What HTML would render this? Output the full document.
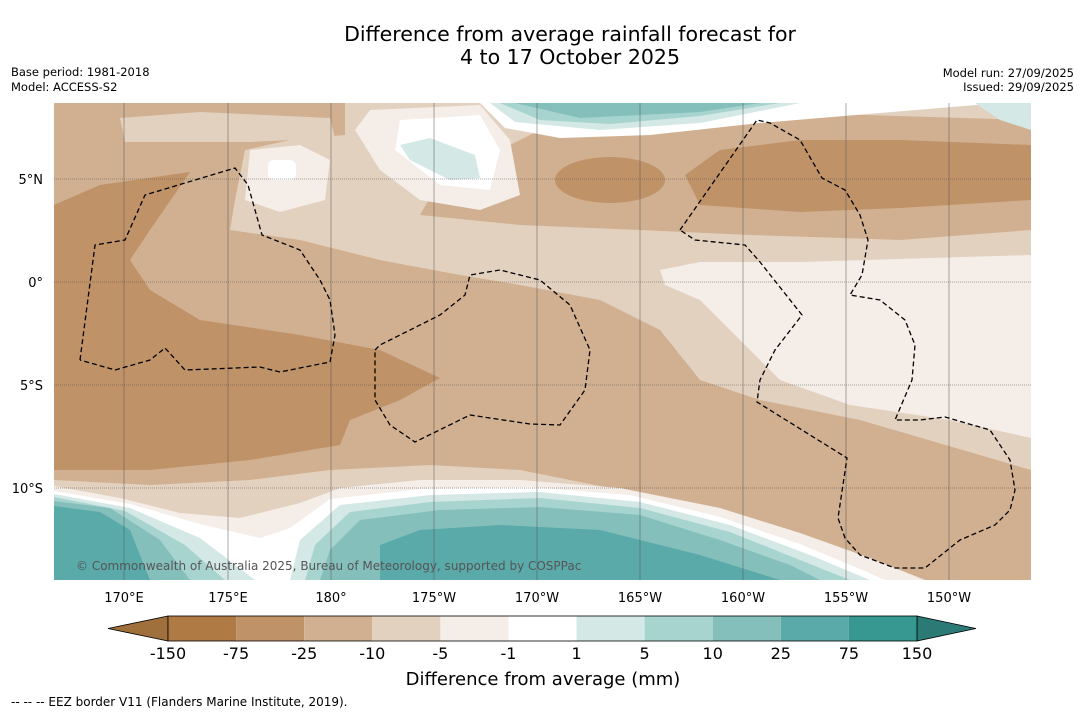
<!DOCTYPE html>
<html><head><meta charset="utf-8">
<style>
body{margin:0;background:#fff;width:1085px;height:713px;overflow:hidden;font-family:"DejaVu Sans","Liberation Sans",sans-serif;}
svg{position:absolute;left:0;top:0}
</style></head>
<body>
<svg width="1085" height="713" viewBox="0 0 1085 713">
<text x="570" y="41" font-size="20.5" text-anchor="middle">Difference from average rainfall forecast for</text>
<text x="570" y="64" font-size="20.5" text-anchor="middle">4 to 17 October 2025</text>
<text x="11" y="76" font-size="11.5">Base period: 1981-2018</text>
<text x="11" y="91" font-size="11.5">Model: ACCESS-S2</text>
<text x="1074" y="77" font-size="11.5" text-anchor="end">Model run: 27/09/2025</text>
<text x="1074" y="91" font-size="11.5" text-anchor="end">Issued: 29/09/2025</text>
<defs><clipPath id="mc"><rect x="54" y="103" width="977" height="477"/></clipPath></defs>
<g clip-path="url(#mc)">
<rect x="54" y="103" width="977" height="477" fill="#e3d1bf"/>
<polygon fill="#d0b090" points="54,103 345,103 345,135 290,140 245,150 235,200 230,230 300,240 380,260 460,275 520,285 600,300 660,330 700,380 760,400 860,420 1031,470 1031,580 880,580 820,560 760,540 700,510 620,490 520,470 430,465 330,470 250,480 150,485 54,480"/>
<polygon fill="#d0b090" points="520,140 560,120 700,110 1031,120 1031,230 900,240 750,235 640,230 520,225 420,215 440,180 500,150"/>
<polygon fill="#e3d1bf" points="120,118 200,112 330,118 335,138 250,142 125,142"/>
<polygon fill="#bf9268" points="54,205 100,185 190,172 150,230 130,260 150,290 200,320 300,335 380,350 440,378 400,400 350,420 340,445 250,460 150,470 54,470"/>
<polygon fill="#bf9268" points="685,175 720,150 800,140 900,140 1031,145 1031,200 900,208 800,212 700,205"/>
<ellipse cx="610" cy="180" rx="55" ry="23" fill="#bf9268"/>
<polygon fill="#f4ede8" points="660,270 700,262 800,262 1031,255 1031,438 950,420 850,405 780,380 740,340 700,300 665,285"/>
<polygon fill="#f4ede8" points="370,110 480,105 510,140 520,195 480,210 420,200 380,170 355,130"/>
<polygon fill="#f4ede8" points="250,150 300,145 330,160 325,200 280,212 245,200"/>
<polygon fill="#fff" points="400,120 480,115 500,150 490,190 440,185 395,150"/>
<rect x="268" y="160" width="28" height="20" rx="6" fill="#fff"/>
<polygon fill="#d4e8e6" points="400,145 430,138 475,155 480,178 450,180 410,160"/>
<polygon fill="#fff" points="480,103 505,128 560,138 650,135 760,123 1000,103"/>
<polygon fill="#d4e8e6" points="490,103 515,122 600,130 700,123 800,103"/>
<polygon fill="#a8d4d0" points="500,103 540,120 610,124 700,116 780,103"/>
<polygon fill="#84bfbc" points="515,103 580,118 700,112 760,103"/>
<polygon fill="#d4e8e6" points="975,103 1031,103 1031,130 1000,120"/>
<polygon fill="#f4ede8" points="54,486 120,498 180,513 240,518 300,503 340,488 420,480 520,480 620,488 720,508 800,533 870,558 925,580 54,580"/>
<polygon fill="#fff" points="54,491 130,504 200,524 260,538 290,528 330,499 420,489 530,487 630,495 720,517 800,544 860,569 885,580 54,580"/>
<polygon fill="#d4e8e6" points="54,494 130,508 200,538 255,580 54,580"/>
<polygon fill="#a8d4d0" points="54,497 125,511 185,545 225,580 54,580"/>
<polygon fill="#84bfbc" points="54,501 110,508 160,540 190,580 54,580"/>
<polygon fill="#5aaaa9" points="54,506 100,512 130,530 150,580 54,580"/>
<polygon fill="#d4e8e6" points="290,580 300,540 340,505 430,495 540,492 640,502 730,525 810,555 870,580"/>
<polygon fill="#a8d4d0" points="305,580 315,545 350,512 430,502 540,498 640,508 730,532 800,560 850,580"/>
<polygon fill="#84bfbc" points="320,580 330,550 360,520 440,510 540,507 640,515 720,540 790,565 820,580"/>
<polygon fill="#5aaaa9" points="380,580 380,545 420,530 500,525 600,530 700,555 780,580"/>
<g stroke="#555" stroke-width="0.5">
<line x1="124" y1="103" x2="124" y2="580"/><line x1="228" y1="103" x2="228" y2="580"/><line x1="331" y1="103" x2="331" y2="580"/><line x1="434" y1="103" x2="434" y2="580"/><line x1="537" y1="103" x2="537" y2="580"/><line x1="640" y1="103" x2="640" y2="580"/><line x1="743" y1="103" x2="743" y2="580"/><line x1="846" y1="103" x2="846" y2="580"/><line x1="949" y1="103" x2="949" y2="580"/>
<g stroke-dasharray="1,1"><line x1="54" y1="179" x2="1031" y2="179"/><line x1="54" y1="282" x2="1031" y2="282"/><line x1="54" y1="385" x2="1031" y2="385"/><line x1="54" y1="488" x2="1031" y2="488"/></g>
</g>
<g fill="none" stroke="#000" stroke-width="1.3" stroke-dasharray="5,3">
<polyline points="80,360 95,245 125,240 145,195 235,168 248,185 262,235 300,250 320,280 330,300 335,335 330,362 280,372 260,367 185,370 165,348 150,360 115,370 80,360"/>
<polyline points="375,350 380,345 440,315 465,295 470,275 500,270 540,280 570,305 590,350 585,390 560,425 530,424 470,415 415,442 390,425 375,400 375,350"/>
<polyline points="680,230 757,120 770,123 800,140 822,178 845,190 860,215 868,240 862,275 850,295 880,300 905,320 915,345 912,380 895,420 920,420 945,417 990,430 1010,460 1015,490 1010,510 995,525 960,540 925,568 895,568 860,555 845,538 838,518 847,458 757,402 760,380 775,350 802,315 760,262 745,245 695,240 680,230"/>
</g>
<text x="76" y="570" font-size="12" fill="#555">© Commonwealth of Australia 2025, Bureau of Meteorology, supported by COSPPac</text>
</g>
<g font-size="13" text-anchor="middle">
<text x="124" y="602">170°E</text><text x="228" y="602">175°E</text><text x="331" y="602">180°</text><text x="434" y="602">175°W</text><text x="537" y="602">170°W</text><text x="640" y="602">165°W</text><text x="743" y="602">160°W</text><text x="846" y="602">155°W</text><text x="949" y="602">150°W</text>
</g>
<g font-size="13" text-anchor="end">
<text x="43" y="184">5°N</text><text x="43" y="287">0°</text><text x="43" y="390">5°S</text><text x="43" y="493">10°S</text>
</g>
<g id="cbar"></g>
<text x="543" y="685" font-size="18" text-anchor="middle">Difference from average (mm)</text>
<text x="11" y="706" font-size="12">--  --  -- EEZ border V11 (Flanders Marine Institute, 2019).</text>
</svg>
<script>
const levels = ["-150","-75","-25","-10","-5","-1","1","5","10","25","75","150"];
const boxColors = ["#b07a45","#bf9268","#d0b090","#e3d1bf","#f4ede8","#ffffff","#d4e8e6","#a8d4d0","#84bfbc","#5aaaa9","#379892"];
const extendColors = ["#a0703c","#2b7a76"];
const g = document.getElementById('cbar');
const NS = 'http://www.w3.org/2000/svg';
const x0 = 168, x1 = 917, y0 = 616, h = 25;
const w = (x1 - x0) / boxColors.length;
function mk(tag, attrs){const e=document.createElementNS(NS,tag);for(const k in attrs)e.setAttribute(k,attrs[k]);g.appendChild(e);return e;}
const lt = mk('polygon',{points:`108,${y0+h/2} ${x0},${y0} ${x0},${y0+h}`,fill:extendColors[0],stroke:'#000','stroke-width':0.8});


const rt = mk('polygon',{points:`${x1},${y0} 976,${y0+h/2} ${x1},${y0+h}`,fill:extendColors[1],stroke:'#000','stroke-width':0.8});


boxColors.forEach((c,i)=>{
  const r = mk('rect',{x:x0+i*w,y:y0,width:w,height:h,fill:c});
  
  
});
const fr = mk('rect',{x:x0,y:y0,width:x1-x0,height:h,fill:'none',stroke:'#000','stroke-width':0.8});


levels.forEach((l,i)=>{
  const t = mk('text',{x:x0+i*w,y:659,'font-size':16,'text-anchor':'middle'});
  t.textContent = l;
  
  
});
</script>
</body></html>
